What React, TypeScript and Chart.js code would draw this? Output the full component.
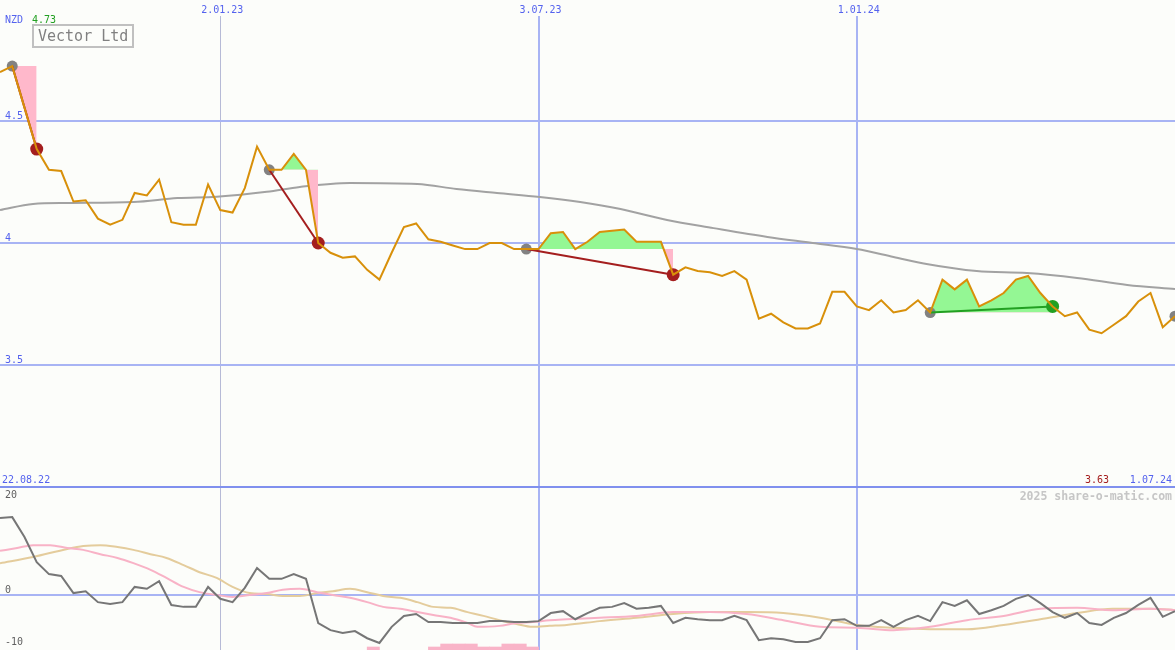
import React, { useEffect, useRef } from 'react';
import { Chart, registerables } from 'chart.js';

Chart.register(...registerables);

// ---------- data ----------
const priceValues = [
  4.70, 4.725, 4.555, 4.385, 4.30, 4.295, 4.17, 4.175, 4.10, 4.075,
  4.095, 4.205, 4.195, 4.26, 4.085, 4.075, 4.075, 4.24, 4.135, 4.125,
  4.225, 4.395, 4.30, 4.30, 4.365, 4.30, 4.00, 3.96, 3.94, 3.945,
  3.89, 3.85, 3.96, 4.065, 4.08, 4.015, 4.005, 3.99, 3.975, 3.975,
  4.00, 4.00, 3.975, 3.975, 3.975, 4.04, 4.045, 3.975, 4.005, 4.045,
  4.05, 4.055, 4.005, 4.005, 4.005, 3.87, 3.90, 3.885, 3.88, 3.865,
  3.885, 3.85, 3.69, 3.71, 3.675, 3.65, 3.65, 3.67, 3.80, 3.80,
  3.74, 3.725, 3.765, 3.715, 3.725, 3.765, 3.715, 3.85, 3.81, 3.85,
  3.74, 3.765, 3.795, 3.85, 3.865, 3.795, 3.74, 3.70, 3.715, 3.645,
  3.63, 3.665, 3.70, 3.76, 3.795, 3.655, 3.70,
];

const maIndex = [0, 2.7, 5.5, 10.9, 14.5, 17.7, 21.8, 24.5, 28.6, 34.1, 37.3, 40.6, 44.1, 47.4, 50.7, 54.5, 58.3, 62.7, 66.4, 70.0, 73.0, 75.7, 79.8, 83.9, 88.0, 92.1, 96];
const maValues = [4.135, 4.16, 4.164, 4.168, 4.184, 4.19, 4.21, 4.23, 4.246, 4.242, 4.221, 4.205, 4.189, 4.168, 4.139, 4.094, 4.061, 4.025, 4.0, 3.975, 3.943, 3.914, 3.885, 3.877, 3.857, 3.828, 3.811];

const tradeEntries = [1, 22, 43, 76, 96];
const tradeExits: (number | null)[] = [3, 26, 55, 86, null];

const oscValues = [
  16.2, 16.4, 12.2, 6.9, 4.4, 4.0, 0.4, 0.8, -1.5, -1.9,
  -1.5, 1.7, 1.3, 2.9, -2.1, -2.5, -2.5, 1.7, -0.8, -1.5,
  1.5, 5.7, 3.4, 3.4, 4.4, 3.4, -5.9, -7.4, -8.0, -7.6,
  -9.1, -10.1, -6.7, -4.4, -4.0, -5.7, -5.7, -5.9, -5.9, -5.9,
  -5.5, -5.5, -5.7, -5.7, -5.5, -3.8, -3.4, -5.1, -3.8, -2.7,
  -2.5, -1.7, -2.9, -2.7, -2.3, -5.9, -4.8, -5.1, -5.3, -5.3,
  -4.4, -5.3, -9.5, -9.1, -9.3, -9.9, -9.9, -9.1, -5.3, -5.1,
  -6.5, -6.5, -5.3, -6.7, -5.3, -4.4, -5.5, -1.5, -2.3, -1.1,
  -4.0, -3.2, -2.3, -0.8, 0, -1.7, -3.6, -4.8, -3.8, -5.9,
  -6.3, -4.8, -3.8, -2.1, -0.6, -4.6, -3.4,
];

const signalIndex = [0, 1.4, 2.7, 4.1, 5.5, 6.8, 8.2, 9.6, 10.9, 12.3, 13.6, 15, 16.3, 17.7, 19, 20.4, 21.8, 23.1, 24.5, 25.9, 27.2, 28.6, 30, 31.3, 32.7, 34.1, 35.4, 36.8, 38.2, 39, 40.8, 42.2, 43.5, 44.9, 46.3, 49, 52, 55, 58, 61, 64, 67, 70, 73, 76, 79, 82, 85, 88, 90.9, 94, 96];
const signalValues = [9.3, 9.9, 10.5, 10.5, 9.9, 9.5, 8.6, 7.8, 6.7, 5.3, 3.6, 1.7, 0.6, 0, -0.4, 0, 0.4, 1.1, 1.3, 0.6, 0, -0.6, -1.5, -2.5, -2.9, -3.6, -4.2, -4.8, -5.9, -6.7, -6.5, -5.9, -5.7, -5.3, -5.1, -4.8, -4.4, -3.6, -3.6, -4.0, -5.3, -6.7, -6.9, -7.4, -6.7, -5.3, -4.4, -2.9, -2.7, -3.2, -2.9, -3.2];

const slowIndex = [0, 2.7, 5.5, 6.8, 8.2, 9.6, 10.9, 12.3, 13.6, 15.0, 16.3, 17.7, 19.0, 20.4, 21.8, 23.1, 24.5, 25.9, 27.2, 28.6, 30.0, 31.3, 32.7, 34.1, 35.4, 36.8, 38.2, 39.5, 40.8, 42.2, 43.5, 44.9, 46.3, 49, 52, 55, 58, 61, 64, 67, 70, 73, 76, 79, 82, 85, 88, 90.9, 94, 96];
const slowValues = [6.7, 8.0, 9.7, 10.3, 10.5, 10.1, 9.5, 8.6, 7.8, 6.3, 4.8, 3.6, 1.7, 0.4, 0.2, -0.2, -0.2, 0.4, 0.8, 1.3, 0.6, -0.2, -0.6, -1.5, -2.5, -2.7, -3.6, -4.4, -5.3, -6.1, -6.7, -6.5, -6.3, -5.5, -4.8, -4.0, -3.6, -3.6, -3.8, -4.8, -6.3, -6.9, -7.2, -7.2, -6.3, -5.1, -3.8, -2.9, -2.9, -3.2];

const histIndex = [30, 35, 36, 37, 38, 39, 40, 41, 42, 43];
const histValues = [0.63, 0.63, 1.26, 1.26, 1.26, 0.63, 0.63, 1.26, 1.26, 0.63];

const priceTicks = [4.5, 4, 3.5];
const oscTicks = [20, 0, -10];
const dateTickIndex = [18, 44, 70];
const dateTickLabels = ['2.01.23', '3.07.23', '1.01.24'];
const startDateLabel = '22.08.22';
const endDateLabel = '1.07.24';
const currencyLabel = 'NZD';
const highLabel = '4.73';
const lowLabel = '3.63';
const titleLabel = 'Vector Ltd';
const watermarkLabel = '2025 share-o-matic.com';

// ---------- styles ----------
const W = 1175;
const TOP_H = 486;
const BOT_H = 164;
const BG = '#fcfdfa';
const FONT = 'DejaVu Sans Mono';
const BLUE_TEXT = '#5462ee';
const H_GRID = '#a8b4f4';
const SEP = '#8090ee';
const dateLineColors = ['#b6bad6', '#a8b4f4', '#a8b4f4'];
const dateLineWidths = [1, 2, 2];
const ORANGE = '#d8900a';
const GREEN_FILL = '#94f794';
const PINK_FILL = '#ffb8cb';
const LOSS = '#a41e1e';
const GAIN = '#22a022';

const pts = (xs: number[], ys: number[]) => xs.map((x, i) => ({ x, y: ys[i] }));

function drawVerticals(chart: any, top: number) {
  const { ctx } = chart;
  const xs = chart.scales.x;
  dateTickIndex.forEach((d, k) => {
    const px = Math.round(xs.getPixelForValue(d));
    const w = dateLineWidths[k];
    ctx.fillStyle = dateLineColors[k];
    ctx.fillRect(px - Math.floor(w / 2), top, w, chart.height - top);
  });
}

const upperDecor = {
  id: 'upperDecor',
  beforeDatasetsDraw(chart: any) {
    const { ctx } = chart;
    const ys = chart.scales.y;
    ctx.save();
    drawVerticals(chart, 16);
    priceTicks.forEach((v) => {
      const py = Math.round(ys.getPixelForValue(v));
      ctx.fillStyle = H_GRID;
      ctx.fillRect(0, py - 1, chart.width, 2);
    });
    ctx.restore();
  },
  afterDatasetsDraw(chart: any) {
    const { ctx } = chart;
    const xs = chart.scales.x;
    const ys = chart.scales.y;
    ctx.save();
    // title box
    ctx.strokeStyle = '#c0c0c0';
    ctx.lineWidth = 2;
    ctx.strokeRect(33, 25, 100, 22);
    ctx.fillStyle = '#808080';
    ctx.textAlign = 'left';
    ctx.font = `15px "${FONT}"`;
    ctx.fillText(titleLabel, 38, 41);

    ctx.font = `10px "${FONT}"`;
    ctx.textBaseline = 'alphabetic';
    ctx.fillStyle = BLUE_TEXT;
    ctx.textAlign = 'left';
    priceTicks.forEach((v) => {
      ctx.fillText(String(v), 5, Math.round(ys.getPixelForValue(v)) - 2);
    });
    ctx.textAlign = 'center';
    dateTickIndex.forEach((d, k) => {
      ctx.fillText(dateTickLabels[k], xs.getPixelForValue(d) + 2, 13);
    });
    ctx.textAlign = 'left';
    ctx.fillText(currencyLabel, 5, 23);
    ctx.fillStyle = GAIN;
    ctx.fillText(highLabel, 32, 23);
    ctx.fillStyle = BLUE_TEXT;
    ctx.fillText(startDateLabel, 2, 483);
    ctx.textAlign = 'right';
    ctx.fillText(endDateLabel, 1172, 483);
    ctx.fillStyle = LOSS;
    ctx.fillText(lowLabel, 1109, 483);
    ctx.restore();
  },
};

const lowerDecor = {
  id: 'lowerDecor',
  beforeDatasetsDraw(chart: any) {
    const { ctx } = chart;
    const ys = chart.scales.y;
    ctx.save();
    drawVerticals(chart, 2);
    const py = Math.round(ys.getPixelForValue(0));
    ctx.fillStyle = H_GRID;
    ctx.fillRect(0, py - 1, chart.width, 2);
    ctx.fillStyle = SEP;
    ctx.fillRect(0, 0, chart.width, 2);
    ctx.restore();
  },
  afterDatasetsDraw(chart: any) {
    const { ctx } = chart;
    const ys = chart.scales.y;
    ctx.save();
    ctx.font = `10px "${FONT}"`;
    ctx.fillStyle = '#606060';
    ctx.textAlign = 'left';
    oscTicks.forEach((v) => {
      const py = ys.getPixelForValue(v);
      ctx.fillText(String(v), 5, v < 0 ? py + 3 : py - 2);
    });
    ctx.font = `bold 11.5px "${FONT}"`;
    ctx.fillStyle = '#c6c6c6';
    ctx.textAlign = 'right';
    ctx.fillText(watermarkLabel, 1172, 14);
    ctx.restore();
  },
};

function buildUpper() {
  const datasets: any[] = [];
  datasets.push({
    label: 'ma',
    data: pts(maIndex, maValues),
    borderColor: '#a2a2a2',
    borderWidth: 2,
    pointRadius: 0,
    cubicInterpolationMode: 'monotone',
    order: 5,
  });
  tradeEntries.forEach((e, k) => {
    const x = tradeExits[k];
    if (x == null) return;
    const idx: number[] = [];
    for (let i = e; i <= x; i++) idx.push(i);
    const levelIndex = datasets.length;
    datasets.push({
      label: 'level' + k,
      data: idx.map((i) => ({ x: i, y: priceValues[e] })),
      borderColor: 'rgba(0,0,0,0)',
      borderWidth: 1,
      pointRadius: 0,
      fill: false,
      order: 6,
    });
    datasets.push({
      label: 'seg' + k,
      data: idx.map((i) => ({ x: i, y: priceValues[i] })),
      borderColor: 'rgba(0,0,0,0)',
      borderWidth: 1,
      pointRadius: 0,
      fill: { target: levelIndex, above: GREEN_FILL, below: PINK_FILL },
      order: 4,
    });
  });
  tradeEntries.forEach((e, k) => {
    const x = tradeExits[k];
    if (x == null) return;
    const gain = priceValues[x] >= priceValues[e];
    datasets.push({
      label: 'trade' + k,
      data: [{ x: e, y: priceValues[e] }, { x, y: priceValues[x] }],
      borderColor: gain ? GAIN : LOSS,
      borderWidth: 2,
      pointRadius: 0,
      order: 1,
    });
  });
  datasets.push({
    label: 'entries',
    data: tradeEntries.map((e) => ({ x: e, y: priceValues[e] })),
    showLine: false,
    pointRadius: 5.5,
    pointBorderWidth: 0,
    pointBackgroundColor: '#828282',
    order: 2,
  });
  const closed = tradeExits.map((x, k) => ({ x, e: tradeEntries[k] })).filter((t) => t.x != null) as { x: number; e: number }[];
  datasets.push({
    label: 'exits',
    data: closed.map((t) => ({ x: t.x, y: priceValues[t.x] })),
    showLine: false,
    pointRadius: 6.5,
    pointBorderWidth: 0,
    pointBackgroundColor: closed.map((t) => (priceValues[t.x] >= priceValues[t.e] ? GAIN : LOSS)),
    order: 2,
  });
  datasets.push({
    label: 'price',
    data: priceValues.map((y, i) => ({ x: i, y })),
    borderColor: ORANGE,
    borderWidth: 2,
    pointRadius: 0,
    order: 0,
  });
  return datasets;
}

function buildLower() {
  const yMin = -11.58;
  return [
    {
      type: 'bar',
      label: 'hist',
      data: histIndex.map((i, k) => ({ x: i + 0.5, y: [yMin, yMin + histValues[k]] })),
      backgroundColor: '#f9b4c8',
      borderWidth: 0,
      barPercentage: 1,
      categoryPercentage: 1,
      order: 5,
    },
    {
      type: 'line',
      label: 'slow',
      data: pts(slowIndex, slowValues),
      borderColor: '#e4cc9c',
      borderWidth: 2,
      pointRadius: 0,
      cubicInterpolationMode: 'monotone',
      order: 3,
    },
    {
      type: 'line',
      label: 'signal',
      data: pts(signalIndex, signalValues),
      borderColor: '#f8b2c6',
      borderWidth: 2,
      pointRadius: 0,
      cubicInterpolationMode: 'monotone',
      order: 2,
    },
    {
      type: 'line',
      label: 'osc',
      data: oscValues.map((y, i) => ({ x: i, y })),
      borderColor: '#767676',
      borderWidth: 2,
      pointRadius: 0,
      order: 0,
    },
  ];
}

const baseOptions = (yMin: number, yMax: number) => ({
  animation: false as const,
  responsive: false,
  maintainAspectRatio: false,
  events: [] as any[],
  layout: { padding: 0, autoPadding: false },
  plugins: { legend: { display: false }, tooltip: { enabled: false } },
  scales: {
    x: { type: 'linear' as const, min: 0, max: priceValues.length - 1, display: false, offset: false },
    y: { type: 'linear' as const, min: yMin, max: yMax, display: false },
  },
});

export default function App() {
  const topRef = useRef<HTMLCanvasElement | null>(null);
  const botRef = useRef<HTMLCanvasElement | null>(null);

  useEffect(() => {
    const top = new Chart(topRef.current as HTMLCanvasElement, {
      type: 'line',
      data: { datasets: buildUpper() },
      options: baseOptions(3.004, 4.996) as any,
      plugins: [upperDecor],
    });
    const bot = new Chart(botRef.current as HTMLCanvasElement, {
      type: 'line',
      data: { datasets: buildLower() as any },
      options: baseOptions(-11.58, 22.95) as any,
      plugins: [lowerDecor],
    });
    return () => {
      top.destroy();
      bot.destroy();
    };
  }, []);

  return (
    <div style={{ position: 'absolute', left: 0, top: 0, width: W, height: TOP_H + BOT_H, background: BG, overflow: 'hidden' }}>
      <canvas ref={topRef} width={W} height={TOP_H} style={{ position: 'absolute', left: 0, top: 0, width: W, height: TOP_H }} />
      <canvas ref={botRef} width={W} height={BOT_H} style={{ position: 'absolute', left: 0, top: TOP_H, width: W, height: BOT_H }} />
    </div>
  );
}
